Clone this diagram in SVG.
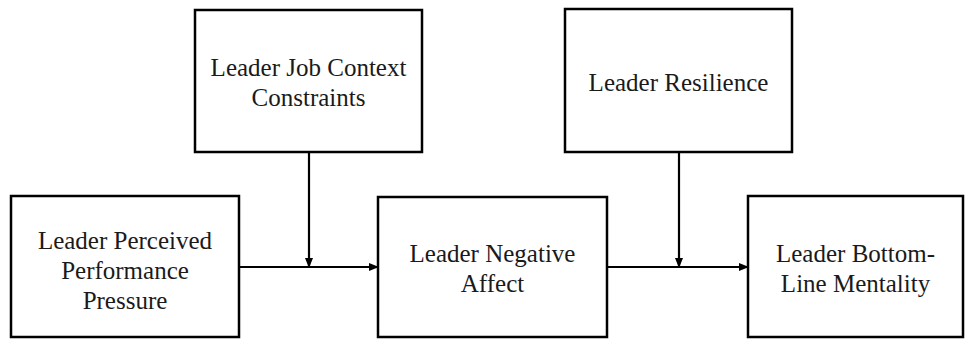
<svg xmlns="http://www.w3.org/2000/svg" width="965" height="339" viewBox="0 0 965 339">
<style>
.box{fill:#fff;stroke:#000;stroke-width:2.5}
.t{font-family:"Liberation Serif","Times New Roman",serif;font-size:25px;fill:#1a1a1a;text-anchor:middle}
.c{stroke:#000;stroke-width:2.2;fill:none;marker-end:url(#ah)}
</style>
<defs>
<marker id="ah" markerWidth="10" markerHeight="8" refX="9" refY="4" orient="auto" markerUnits="userSpaceOnUse">
<path d="M0,0 L10,4 L0,8 Z" fill="#000"/>
</marker>
</defs>
<rect width="965" height="339" fill="#fff"/>
<g id="connectors">
<line class="c" x1="239" y1="267" x2="378" y2="267"/>
<line class="c" x1="309" y1="152" x2="309" y2="267"/>
<line class="c" x1="607" y1="267" x2="748" y2="267"/>
<line class="c" x1="679" y1="152" x2="679" y2="267"/>
</g>
<g id="pressure">
<rect class="box" x="11" y="196" width="228" height="141"/>
<text class="t" x="125" y="249">Leader Perceived</text>
<text class="t" x="125" y="279">Performance</text>
<text class="t" x="125" y="309">Pressure</text>
</g>
<g id="constraints">
<rect class="box" x="195" y="10" width="227" height="142"/>
<text class="t" x="308.5" y="76">Leader Job Context</text>
<text class="t" x="308.5" y="106">Constraints</text>
</g>
<g id="resilience">
<rect class="box" x="565" y="9" width="227" height="143"/>
<text class="t" x="678.5" y="91">Leader Resilience</text>
</g>
<g id="affect">
<rect class="box" x="378" y="197" width="229" height="140"/>
<text class="t" x="492.5" y="262">Leader Negative</text>
<text class="t" x="492.5" y="292">Affect</text>
</g>
<g id="blm">
<rect class="box" x="748" y="196" width="215" height="141"/>
<text class="t" x="855.5" y="262">Leader Bottom-</text>
<text class="t" x="855.5" y="292">Line Mentality</text>
</g>
</svg>
